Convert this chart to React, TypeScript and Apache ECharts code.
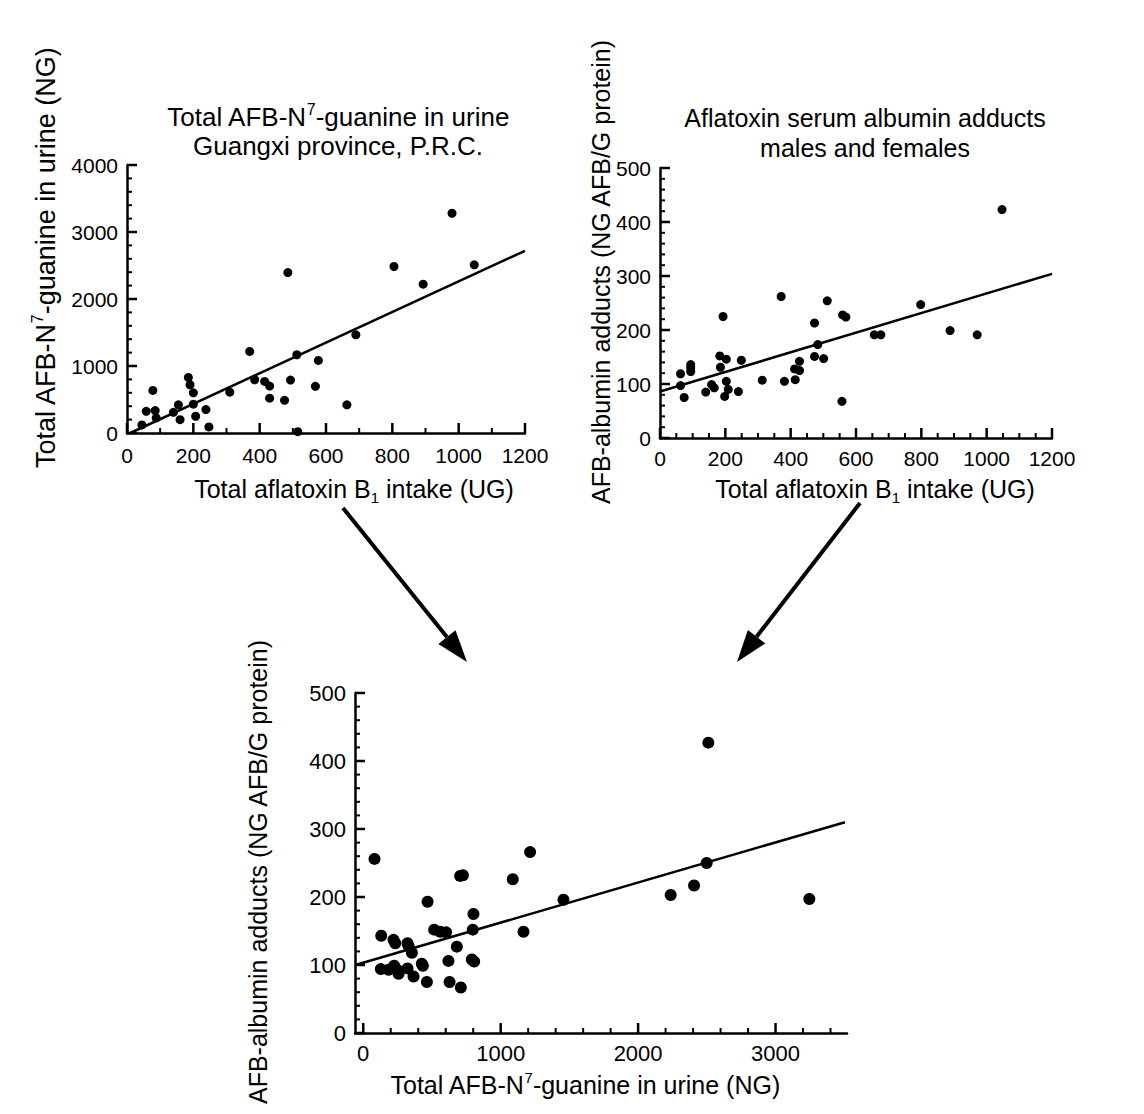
import React, { useEffect, useRef } from "react";
import * as echarts from "echarts";

// ---------- Data ----------
// Top-left: Total AFB-N7-guanine in urine vs total aflatoxin B1 intake
const tlIntake = [45, 58, 85, 88, 78, 140, 155, 160, 185, 190, 200, 200, 207, 238, 247, 310, 370, 385, 415, 430, 430, 475, 485, 493, 512, 515, 568, 577, 663, 690, 805, 893, 980, 1047];
const tlGuanine = [120, 323, 335, 225, 636, 308, 420, 199, 830, 720, 600, 430, 250, 350, 90, 610, 1218, 795, 770, 700, 520, 487, 2395, 790, 1168, 20, 696, 1083, 420, 1466, 2485, 2222, 3280, 2510];
const tlFitX = [10, 1200];
const tlFitY = [0, 2720];

// Top-right: AFB-albumin adducts vs total aflatoxin B1 intake
const trIntake = [63, 63, 74, 94, 94, 94, 140, 158, 166, 183, 185, 193, 198, 203, 203, 209, 240, 249, 313, 371, 381, 412, 414, 427, 427, 473, 473, 483, 501, 512, 557, 559, 569, 656, 676, 798, 888, 971, 1047];
const trAdducts = [119, 97, 75, 136, 123, 130, 85, 99, 93, 152, 131, 225, 77, 146, 105, 90, 86, 144, 107, 262, 105, 128, 108, 142, 125, 213, 151, 173, 147, 254, 68, 228, 224, 191, 191, 247, 199, 191, 423];
const trFitX = [0, 1200];
const trFitY = [86, 304];

// Bottom: AFB-albumin adducts vs total AFB-N7-guanine in urine
const btGuanine = [82, 128, 131, 184, 220, 233, 225, 245, 257, 322, 330, 322, 354, 366, 426, 434, 463, 468, 516, 560, 603, 620, 628, 681, 705, 725, 710, 790, 807, 797, 802, 1088, 1166, 1214, 1457, 2237, 2407, 2499, 2511, 3246];
const btAdducts = [256, 94, 143, 93, 137, 132, 99, 93, 87, 132, 128, 95, 118, 83, 102, 99, 75, 193, 152, 149, 148, 106, 75, 127, 231, 232, 67, 108, 105, 152, 175, 226, 149, 266, 196, 203, 217, 250, 427, 197];
const btFitX = [-58, 3505];
const btFitY = [100, 310];

// Tick labels (major ticks)
const intakeTicks = [0, 200, 400, 600, 800, 1000, 1200];
const guanineTicks = [0, 1000, 2000, 3000, 4000];
const adductTicks = [0, 100, 200, 300, 400, 500];
const btXTicks = [0, 1000, 2000, 3000];

const FONT = "'Liberation Sans', Arial, Helvetica, sans-serif";
const BLACK = "#000";

const zip = (a: number[], b: number[]) => a.map((v, i) => [v, b[i]]);
// minor tick positions between majors
const minorBetween = (majors: number[], step: number, end: number) => {
  const out: number[] = [];
  for (let v = majors[0] + step; v < end; v += step) {
    if (!majors.includes(v)) out.push(v);
  }
  return out;
};

function axis(o: any) {
  return {
    type: "value",
    gridIndex: o.grid,
    position: o.position,
    min: o.min,
    max: o.max,
    axisLine: { show: true, onZero: false, lineStyle: { color: BLACK, width: 2.5 } },
    axisTick: { show: false },
    minorTick: { show: false },
    axisLabel: {
      show: true,
      color: BLACK,
      fontSize: o.fs,
      fontFamily: FONT,
      margin: o.margin,
      customValues: o.ticks,
      formatter: (v: number) => String(v),
    },
    splitLine: { show: false },
  };
}

function rich(fs: number) {
  return {
    a: { fontSize: fs, fontFamily: FONT, fill: BLACK, lineHeight: fs + 6 },
    s: { fontSize: Math.round(fs * 0.6), fontFamily: FONT, fill: BLACK, verticalAlign: "top" },
    b: { fontSize: Math.round(fs * 0.6), fontFamily: FONT, fill: BLACK, verticalAlign: "bottom" },
  };
}

function label(text: string, x: number, y: number, fs: number, rotate = false) {
  return {
    type: "text",
    x,
    y,
    rotation: rotate ? Math.PI / 2 : 0,
    style: { text, rich: rich(fs), align: "center", verticalAlign: "middle" },
  };
}

function arrow(x1: number, y1: number, tx: number, ty: number, headLen: number, halfW: number) {
  const dx = tx - x1;
  const dy = ty - y1;
  const len = Math.sqrt(dx * dx + dy * dy);
  const ux = dx / len;
  const uy = dy / len;
  const bx = tx - headLen * ux;
  const by = ty - headLen * uy;
  const px = -uy;
  const py = ux;
  return [
    { type: "line", shape: { x1, y1, x2: bx, y2: by }, style: { stroke: BLACK, lineWidth: 4 } },
    {
      type: "polygon",
      shape: { points: [[tx, ty], [bx + halfW * px, by + halfW * py], [bx - halfW * px, by - halfW * py]] },
      style: { fill: BLACK },
    },
  ];
}

// tick marks placed through the chart's own scales (convertToPixel)
function ticksFor(chart: any, grid: number, xBase: number, yBase: number, xMaj: number[], xMin: number[], yMaj: number[], yMin: number[]) {
  const out: any[] = [];
  const xt = (v: number, len: number) => {
    const p = chart.convertToPixel({ gridIndex: grid }, [v, yBase]);
    if (!p) return;
    out.push({ type: "line", z: 100, shape: { x1: p[0], y1: p[1], x2: p[0], y2: p[1] - len }, style: { stroke: BLACK, lineWidth: len > 8 ? 2.5 : 2 } });
  };
  const yt = (v: number, len: number) => {
    const p = chart.convertToPixel({ gridIndex: grid }, [xBase, v]);
    if (!p) return;
    out.push({ type: "line", z: 100, shape: { x1: p[0], y1: p[1], x2: p[0] + len, y2: p[1] }, style: { stroke: BLACK, lineWidth: len > 8 ? 2.5 : 2 } });
  };
  xMaj.forEach((v) => xt(v, 10));
  xMin.forEach((v) => xt(v, 5));
  yMaj.forEach((v) => yt(v, 10));
  yMin.forEach((v) => yt(v, 5));
  return out;
}

export default function App() {
  const ref = useRef<HTMLDivElement>(null);
  useEffect(() => {
    const chart = echarts.init(ref.current!, null, { renderer: "svg" });
    const texts = [
      label("{a|Total AFB-N}{s|7}{a|-guanine in urine}", 338, 117, 26),
      label("{a|Guangxi province, P.R.C.}", 338, 146, 26),
      label("{a|Aflatoxin serum albumin adducts}", 865, 118, 25),
      label("{a|males and females}", 865, 148, 25),
      label("{a|Total aflatoxin B}{b|1}{a| intake (UG)}", 354, 489, 25),
      label("{a|Total aflatoxin B}{b|1}{a| intake (UG)}", 875, 489, 25),
      label("{a|Total AFB-N}{s|7}{a|-guanine in urine (NG)}", 46, 258, 27, true),
      label("{a|AFB-albumin adducts (NG AFB/G protein)}", 601, 272, 25, true),
      label("{a|AFB-albumin adducts (NG AFB/G protein)}", 258, 872, 25, true),
      label("{a|Total AFB-N}{s|7}{a|-guanine in urine (NG)}", 585, 1085, 25),
      ...arrow(343, 508, 467, 662, 32, 11),
      ...arrow(860, 503, 737, 662, 32, 11),
    ];
    const option: any = {
      animation: false,
      backgroundColor: "#fff",
      grid: [
        { left: 127, top: 165, width: 398, height: 268 },
        { left: 660, top: 168, width: 392, height: 270 },
        { left: 355, top: 693, width: 492, height: 340 },
      ],
      xAxis: [
        axis({ grid: 0, position: "bottom", min: 0, max: 1200, fs: 21, margin: 12, ticks: intakeTicks }),
        axis({ grid: 1, position: "bottom", min: 0, max: 1200, fs: 21, margin: 10, ticks: intakeTicks }),
        axis({ grid: 2, position: "bottom", min: -60, max: 3520, fs: 22, margin: 9, ticks: btXTicks }),
      ],
      yAxis: [
        axis({ grid: 0, position: "left", min: 0, max: 4000, fs: 21, margin: 9, ticks: guanineTicks }),
        axis({ grid: 1, position: "left", min: 0, max: 500, fs: 21, margin: 9, ticks: adductTicks }),
        axis({ grid: 2, position: "left", min: 0, max: 500, fs: 22, margin: 9, ticks: adductTicks }),
      ],
      series: [
        {
          type: "scatter", xAxisIndex: 0, yAxisIndex: 0, symbol: "circle", symbolSize: 9,
          itemStyle: { color: BLACK, opacity: 1 }, data: zip(tlIntake, tlGuanine),
        },
        {
          type: "line", xAxisIndex: 0, yAxisIndex: 0, symbol: "none",
          lineStyle: { color: BLACK, width: 2.5 }, data: zip(tlFitX, tlFitY),
        },
        {
          type: "scatter", xAxisIndex: 1, yAxisIndex: 1, symbol: "circle", symbolSize: 9,
          itemStyle: { color: BLACK, opacity: 1 }, data: zip(trIntake, trAdducts),
        },
        {
          type: "line", xAxisIndex: 1, yAxisIndex: 1, symbol: "none",
          lineStyle: { color: BLACK, width: 2.5 }, data: zip(trFitX, trFitY),
        },
        {
          type: "scatter", xAxisIndex: 2, yAxisIndex: 2, symbol: "circle", symbolSize: 12,
          itemStyle: { color: BLACK, opacity: 1 }, data: zip(btGuanine, btAdducts),
        },
        {
          type: "line", xAxisIndex: 2, yAxisIndex: 2, symbol: "none",
          lineStyle: { color: BLACK, width: 2.5 }, data: zip(btFitX, btFitY),
        },
      ],
      graphic: texts,
    };
    chart.setOption(option);
    let ticks: any[] = [];
    try {
      ticks = [
        ...ticksFor(chart, 0, 0, 0, intakeTicks, minorBetween(intakeTicks, 100, 1200), guanineTicks, minorBetween(guanineTicks, 200, 4000)),
        ...ticksFor(chart, 1, 0, 0, intakeTicks, minorBetween(intakeTicks, 50, 1200), adductTicks, minorBetween(adductTicks, 20, 500)),
        ...ticksFor(chart, 2, -60, 0, btXTicks, minorBetween(btXTicks, 200, 3500), adductTicks, minorBetween(adductTicks, 20, 500)),
      ];
    } catch (e) {
      ticks = [];
    }
    chart.setOption({ graphic: [...texts, ...ticks] });
    return () => chart.dispose();
  }, []);
  return (
    <div
      ref={ref}
      style={{ position: "fixed", left: 0, top: 0, width: 1144, height: 1114, background: "#fff" }}
    />
  );
}
